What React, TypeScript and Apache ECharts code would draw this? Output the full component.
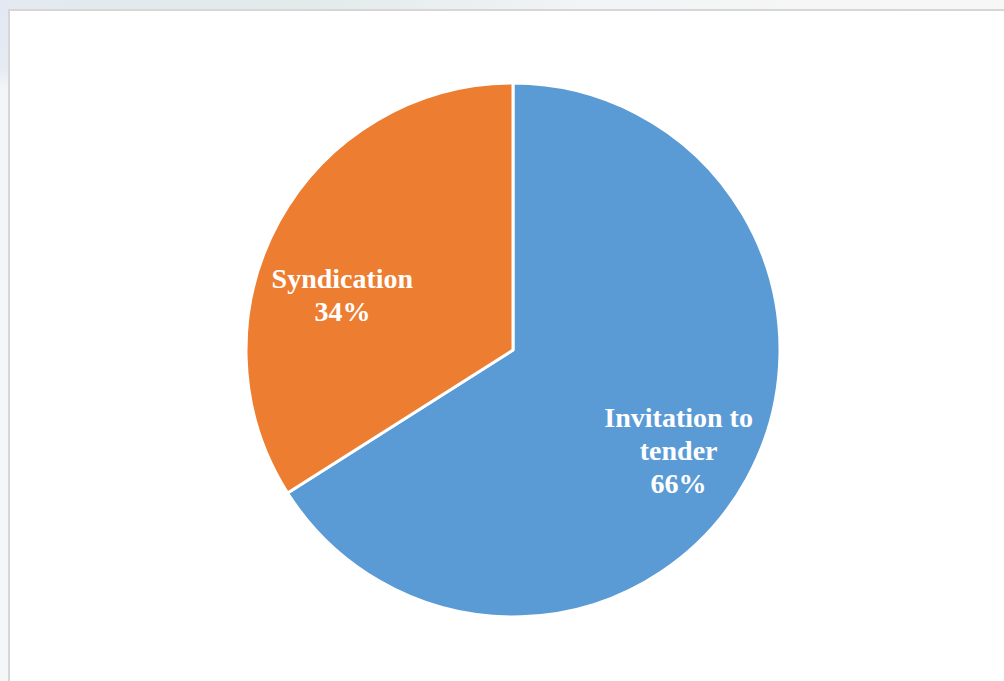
import React, { useEffect, useRef } from "react";
import * as echarts from "echarts";

const categories = ["Invitation to tender", "Syndication"];
const shares = [66, 34];
const labelLines = [["Invitation to", "tender"], ["Syndication"]];
const colors = ["#5B9BD5", "#ED7D31"];
const labelOffsets: [number, number][] = [[46, 35], [-51, 11]];

export default function App() {
  const ref = useRef<HTMLDivElement>(null);
  useEffect(() => {
    if (!ref.current) return;
    const chart = echarts.init(ref.current, undefined, { renderer: "svg" });
    chart.setOption({
      animation: false,
      backgroundColor: "#ffffff",
      series: [
        {
          type: "pie",
          center: [503, 339],
          radius: [0, 267],
          startAngle: 90,
          clockwise: true,
          avoidLabelOverlap: false,
          itemStyle: { borderColor: "#ffffff", borderWidth: 3 },
          label: {
            show: true,
            position: "inside",
            color: "#ffffff",
            fontFamily: "'Liberation Serif', 'Times New Roman', serif",
            fontWeight: "bold",
            fontSize: 28,
            lineHeight: 33,
            align: "center",
          },
          labelLine: { show: false },
          emphasis: { disabled: true },
          data: categories.map((name, i) => ({
            name,
            value: shares[i],
            itemStyle: { color: colors[i] },
            label: {
              formatter: [...labelLines[i], shares[i] + "%"].join("\n"),
              offset: labelOffsets[i],
            },
          })),
        },
      ],
    });
    return () => chart.dispose();
  }, []);

  return (
    <div
      style={{
        position: "fixed",
        left: 0,
        top: 0,
        width: 1004,
        height: 681,
        overflow: "hidden",
        background: "#f5f6f7",
      }}
    >
      <div
        style={{
          position: "absolute",
          left: 0,
          top: 0,
          width: 1004,
          height: 10,
          background: "linear-gradient(90deg, #e4eaf0 0%, #e2eaea 30%, #f3f4f5 60%, #f7f7f7 100%)",
        }}
      />
      <div
        style={{
          position: "absolute",
          left: 0,
          top: 0,
          width: 9,
          height: 681,
          background: "linear-gradient(180deg, #e3e8f2 0%, #e6eaf3 10%, #f4f5f6 13%, #f5f6f7 100%)",
        }}
      />
      <div
        style={{
          position: "absolute",
          left: 8,
          top: 9,
          width: 996,
          height: 672,
          borderLeft: "2px solid #d6d6d6",
          borderTop: "2px solid #d6d6d6",
          background: "#ffffff",
        }}
      >
        <div ref={ref} style={{ width: 994, height: 670 }} />
      </div>
    </div>
  );
}
